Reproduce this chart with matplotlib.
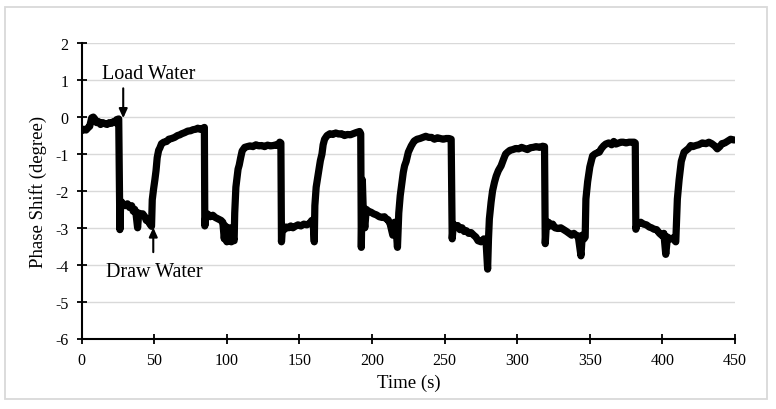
import matplotlib
matplotlib.use("Agg")
import matplotlib.pyplot as plt
from matplotlib.patches import Rectangle

plt.rcParams['font.family'] = ['Liberation Serif', 'DejaVu Serif']
plt.rcParams['axes.unicode_minus'] = False

# ---- data (time in s, phase shift in degree) ----
time_s = [
    0, 1.5, 3, 4.6, 5.5, 6.9, 8, 9, 10.3, 11.5, 13, 14.5, 16, 17.5, 19, 20.5, 22, 23, 24, 25.5,
    26.3, 26.8, 27.5, 28.6, 30, 31.5, 33, 34.4, 35.5, 36.5, 37.5, 38.5, 39.3, 40.5, 42, 43.5, 44.5, 45.8, 47, 48.1,
    48.6, 49.5, 50.4, 51.2, 52, 53, 53.8, 55, 56.5, 58.5, 60, 62, 64, 66, 67.6, 69, 71, 73, 75, 76.8, 78.5, 80, 81.5, 83.6, 84.5,
    84.8, 85.5, 86.9, 88.5, 90.3, 92, 93.5, 95, 96, 97.2, 98.2, 99, 100, 101, 102, 103, 104, 105,
    105.4, 106.2, 107.7, 108.5, 109.5, 110.5, 112.3, 114, 116, 118, 120, 122, 124, 126, 128, 130, 132, 134, 135, 136.4, 137.2,
    137.6, 138.3, 139.5, 141, 142.5, 144, 145.5, 147, 149, 151, 153, 155, 157, 158.5, 159.5, 160.2,
    160.6, 161.5, 162.7, 163.5, 164.4, 165.5, 166.3, 167.3, 169, 171, 173, 175, 177, 179, 181, 183, 185, 187, 189, 191.4, 192.2,
    192.6, 193.3, 194, 195, 196, 197.5, 199.4, 201, 203, 205, 207, 208.5, 209.8, 211, 212.5, 214.3, 215.5, 216.5, 217.5,
    218.4, 219.4, 220.5, 221.5, 222.4, 223.5, 225, 227, 229, 231, 233, 235, 237, 239, 241, 243, 245, 247, 249, 251, 253, 254.5,
    255.2, 256, 257.5, 259, 260.5, 262, 263.5, 265, 266.5, 268.2, 270, 271.5, 273, 275.1, 277, 278.5, 279.6,
    280.2, 280.8, 282, 283, 284.3, 285.5, 287, 288.9, 290.5, 292, 293.4, 295, 297, 299, 301, 303, 305, 307, 309, 311, 313, 315.3, 317.5, 318.8,
    319.3, 320, 321.5, 323, 324.4, 326, 328, 330, 332, 334, 335.8, 337.5, 339, 340.4, 342, 343.9, 344.8, 346, 346.8,
    347.3, 348.5, 350, 351.9, 353.5, 355, 356.5, 358, 359.5, 361, 363, 365, 366.5, 368, 370, 371.4, 373, 375, 377, 379, 380.5, 381.3,
    381.7, 382.5, 384, 385.1, 387, 389, 391, 392.5, 394.3, 396, 398, 400, 401, 402.3, 403.5, 405, 407, 408.5, 409.2,
    410.3, 411.5, 413, 414.9, 416.5, 418, 419.5, 421, 423, 425, 427.5, 430, 432, 434, 436, 437.8, 439.5, 441, 443, 445, 447, 449.3,
]
phase_deg = [
    -0.37, -0.33, -0.35, -0.28, -0.25, -0.02, 0.0, -0.05, -0.15, -0.12, -0.2, -0.15, -0.18, -0.2, -0.15, -0.17, -0.12, -0.15, -0.07, -0.05,
    -3.05, -2.4, -2.3, -2.37, -2.4, -2.35, -2.45, -2.4, -2.55, -2.5, -2.65, -3.0, -2.6, -2.65, -2.62, -2.7, -2.8, -2.82, -2.9, -2.96,
    -2.24, -1.95, -1.7, -1.45, -1.1, -0.9, -0.84, -0.72, -0.68, -0.66, -0.6, -0.58, -0.55, -0.5, -0.48, -0.45, -0.42, -0.38, -0.37, -0.34, -0.33, -0.3, -0.33, -0.3, -0.28,
    -2.95, -2.65, -2.63, -2.7, -2.66, -2.72, -2.75, -2.78, -2.8, -2.85, -3.3, -2.95, -3.38, -3.1, -3.0, -3.38, -3.2, -3.35,
    -2.6, -1.9, -1.41, -1.3, -1.1, -0.92, -0.82, -0.8, -0.78, -0.8, -0.75, -0.78, -0.77, -0.8, -0.76, -0.78, -0.77, -0.75, -0.77, -0.68, -0.7,
    -3.38, -2.95, -3.05, -2.98, -3.0, -2.95, -3.0, -2.96, -2.92, -2.95, -2.9, -2.92, -2.88, -2.8, -2.9, -3.38,
    -2.4, -1.9, -1.59, -1.4, -1.18, -1.0, -0.75, -0.6, -0.5, -0.45, -0.47, -0.43, -0.46, -0.45, -0.5, -0.47, -0.48, -0.45, -0.42, -0.39, -0.45,
    -3.53, -1.7, -2.6, -3.0, -2.5, -2.55, -2.58, -2.62, -2.65, -2.7, -2.72, -2.7, -2.76, -2.78, -2.9, -3.2, -2.85, -3.0, -3.53,
    -2.6, -2.13, -1.8, -1.5, -1.32, -1.2, -0.95, -0.78, -0.65, -0.6, -0.58, -0.55, -0.52, -0.55, -0.55, -0.6, -0.56, -0.58, -0.6, -0.58, -0.58, -0.6,
    -3.3, -2.9, -2.95, -2.94, -3.05, -3.0, -3.1, -3.08, -3.15, -3.13, -3.2, -3.25, -3.35, -3.38, -3.3, -3.35, -4.12,
    -3.3, -2.76, -2.3, -2.0, -1.77, -1.6, -1.45, -1.32, -1.15, -1.0, -0.95, -0.9, -0.88, -0.85, -0.86, -0.82, -0.85, -0.88, -0.83, -0.82, -0.8, -0.82, -0.79, -0.8,
    -3.43, -2.95, -2.85, -2.95, -2.9, -3.0, -3.02, -3.0, -3.05, -3.1, -3.15, -3.2, -3.15, -3.2, -3.22, -3.76, -3.2, -3.3, -3.25,
    -2.22, -1.75, -1.35, -1.05, -1.0, -0.97, -0.95, -0.85, -0.78, -0.73, -0.7, -0.75, -0.66, -0.73, -0.7, -0.68, -0.68, -0.7, -0.68, -0.68, -0.68, -0.7,
    -3.04, -2.9, -2.88, -2.85, -2.9, -2.92, -2.98, -3.0, -3.04, -3.05, -3.15, -3.22, -3.15, -3.72, -3.25, -3.3, -3.28, -3.35, -3.38,
    -2.22, -1.7, -1.2, -0.95, -0.9, -0.85, -0.77, -0.8, -0.77, -0.75, -0.7, -0.72, -0.68, -0.72, -0.78, -0.86, -0.8, -0.72, -0.7, -0.65, -0.6, -0.62,
]

x_ticks = [0, 50, 100, 150, 200, 250, 300, 350, 400, 450]
y_ticks = [-6, -5, -4, -3, -2, -1, 0, 1, 2]

load_label = "Load Water"
draw_label = "Draw Water"

W, H = 776, 410
fig = plt.figure(figsize=(W / 100, H / 100), dpi=100)
ax = fig.add_axes([81.7 / W, 1 - 339.5 / H, (735 - 81.7) / W, (339.5 - 44.3) / H])

# outer light border
fig.patches.append(Rectangle((5 / W, 1 - 400 / H), (767 - 5) / W, (400 - 8) / H,
                             transform=fig.transFigure, fill=False,
                             edgecolor='#d9d9d9', linewidth=1.3))

for yv in y_ticks[1:]:
    ax.axhline(yv, color='#d9d9d9', linewidth=1.0, zorder=0)

ax.plot(time_s, phase_deg, color='black', linewidth=5.2,
        solid_joinstyle='round', solid_capstyle='round', zorder=3)

ax.set_xlim(0, 450)
ax.set_ylim(-6, 2)
ax.set_xticks(x_ticks)
ax.set_yticks(y_ticks)
ax.tick_params(direction='inout', length=7, width=1.3, labelsize=11.5, colors='black', pad=6)
for s in ['top', 'right']:
    ax.spines[s].set_visible(False)
for s in ['left', 'bottom']:
    ax.spines[s].set_linewidth(1.5)
    ax.spines[s].set_color('black')

ax.set_xlabel("Time (s)", fontsize=13.5, labelpad=4)
ax.set_ylabel("Phase Shift (degree)", fontsize=13.5, labelpad=6)

arrow_kw = dict(arrowstyle='-|>,head_width=0.25,head_length=0.55', color='black', lw=1.5, shrinkA=0, shrinkB=0)
ax.annotate("", xy=(28.6, -0.03), xytext=(28.6, 0.78), arrowprops=arrow_kw, zorder=5)
ax.annotate("", xy=(49.3, -2.99), xytext=(49.3, -3.66), arrowprops=arrow_kw, zorder=5)
ax.text(46.4, 1.18, load_label, fontsize=14.5, ha='center', va='center')
ax.text(50.1, -4.18, draw_label, fontsize=14.5, ha='center', va='center')

fig.savefig("out.png", dpi=100)
